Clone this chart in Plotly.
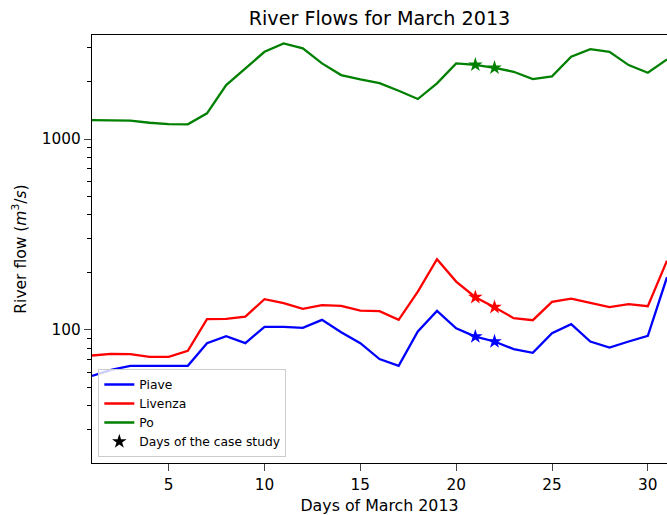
import plotly.graph_objects as go

days = list(range(1, 32))
piave = [57.4, 61.7, 64.8, 64.8, 64.8, 64.8, 85.2, 92.7, 85.2, 103.7, 103.7, 102.4, 112.8, 97.3, 85.2,
         70.3, 64.8, 98, 125.8, 102, 92.2, 86.9, 79.3, 75.8, 96.1, 107.1, 86.9, 80.8, 86.9, 93, 188.8]
livenza = [73.4, 74.9, 74.6, 72.2, 72.2, 77.6, 113.8, 114.2, 117.4, 144.8, 138, 128.8, 134.7, 133.6, 126.2,
           125.3, 112.8, 158.7, 234.5, 179, 148.3, 131.5, 115.2, 112.4, 140.2, 145.8, 138.5, 131.5, 136.3, 133.1, 230.5]
po = [1257, 1257, 1247, 1217, 1198, 1194, 1363, 1917, 2346, 2865, 3170, 2985, 2490, 2163, 2053,
      1964, 1790, 1620, 1957, 2490, 2449, 2362, 2251, 2061, 2130, 2697, 2960, 2865, 2440, 2224, 2614]
case_days = [21, 22]

series = [("Piave", piave, "#0000ff"), ("Livenza", livenza, "#ff0000"), ("Po", po, "#008000")]

fig = go.Figure()
for name, vals, col in series:
    fig.add_trace(go.Scatter(x=days, y=vals, mode="lines", name=name,
                             line=dict(color=col, width=2.3)))
for name, vals, col in series:
    fig.add_trace(go.Scatter(x=case_days, y=[vals[d - 1] for d in case_days], mode="markers",
                             showlegend=False, marker=dict(symbol="star", size=11, color=col)))
fig.add_trace(go.Scatter(x=[None], y=[None], mode="markers", name="Days of the case study",
                         marker=dict(symbol="star", size=11, color="black")))

font = "DejaVu Sans"
fig.update_layout(
    width=667, height=515,
    margin=dict(l=92, r=0, t=35, b=52),
    plot_bgcolor="white", paper_bgcolor="white",
    font=dict(family=font, size=15.3, color="black"),
    title=dict(text="River Flows for March 2013", x=0.5, xref="paper", xanchor="center",
               y=1 - 18 / 515, yanchor="middle", font=dict(size=19.2)),
    showlegend=True,
    legend=dict(x=0.011, y=0.014, xanchor="left", yanchor="bottom",
                bgcolor="rgba(255,255,255,0.8)", bordercolor="#cccccc", borderwidth=1,
                font=dict(size=12.3), tracegroupgap=0, itemwidth=30),
)
fig.update_xaxes(range=[1, 31], tickvals=[5, 10, 15, 20, 25, 30], ticks="outside", ticklen=7,
                 tickwidth=1, showline=True, linecolor="black", linewidth=1.3, mirror=True,
                 showgrid=False, zeroline=False,
                 title=dict(text="Days of March 2013", standoff=7, font=dict(size=15.8)))
minor_vals = [20, 30, 40, 50, 60, 70, 80, 90, 200, 300, 400, 500, 600, 700, 800, 900, 2000, 3000]
fig.update_yaxes(type="log", range=[1.3025, 3.545], tickvals=[100, 1000], ticktext=["100", "1000"],
                 ticks="outside", ticklen=7, tickwidth=1, showline=True, linecolor="black",
                 linewidth=1.3, mirror=False, showgrid=False, zeroline=False,
                 minor=dict(tickvals=minor_vals, ticks="outside", ticklen=3.5, tickwidth=1,
                            tickcolor="black", showgrid=False),
                 title=dict(text="River flow (<i>m</i><sup>3</sup>/<i>s</i>)", standoff=11,
                            font=dict(size=15.5)))

fig.write_html("out.html")
